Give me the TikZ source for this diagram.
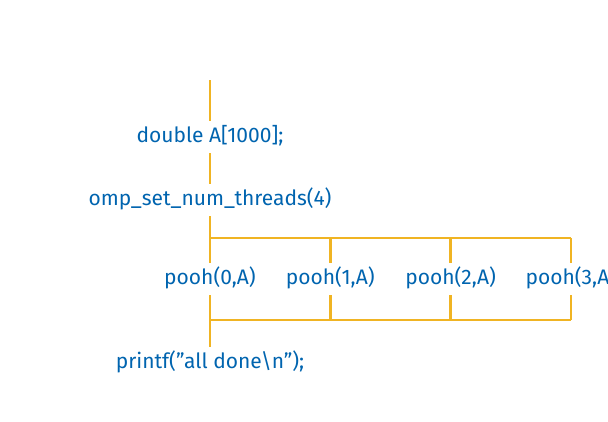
\documentclass[tikz,border=0pt]{standalone}
\usepackage{fontspec}
\setmainfont{Fira Sans}
\usepackage{xcolor}
\definecolor{codeblue}{RGB}{0,100,175}
\definecolor{forkgold}{RGB}{240,180,35}

\begin{document}
\begin{tikzpicture}[x=1pt, y=-1pt,
    code/.style={font=\fontsize{21}{24}\selectfont, text=codeblue, anchor=base,
                 inner xsep=0pt, inner ysep=7pt, text height=14pt, text depth=4pt},
    thread/.style={forkgold, line width=2.4pt}]
  \useasboundingbox (0,0) rectangle (608,421);
  \clip (0,0) rectangle (608,421);   % pooh(3,A) runs off the right edge
  \coordinate (start) at (210,80);
  \coordinate (fork) at (210,238);
  \coordinate (join) at (210,320);
  \node [code] (dbl) at (210,142) {double A[1000];};
  \node [code] (omp) at (210,205) {omp\_set\_num\_threads(4)};
  \foreach \i in {0,...,3}
    \node [code] (pooh\i) at (210+120.3*\i,284) {pooh(\i,A)};
  \node [code] (done) at (210,368) {printf(”all done\textbackslash n”);};
  % master thread
  \draw [thread] (start) -- (dbl.north);
  \draw [thread] (omp.north) -- (dbl.south);
  \draw [thread] (omp.south) -- (pooh0.north);
  \draw [thread] (pooh0.south) -- (done.north);
  % fork and join
  \draw [thread] (pooh0.north |- fork) -- (pooh3.north |- fork);
  \draw [thread] (pooh0.south |- join) -- (pooh3.south |- join);
  \foreach \i in {1,2,3} {
    \draw [thread] (pooh\i.north |- fork) -- (pooh\i.north);
    \draw [thread] (pooh\i.south) -- (pooh\i.south |- join);
  }
\end{tikzpicture}
\end{document}
